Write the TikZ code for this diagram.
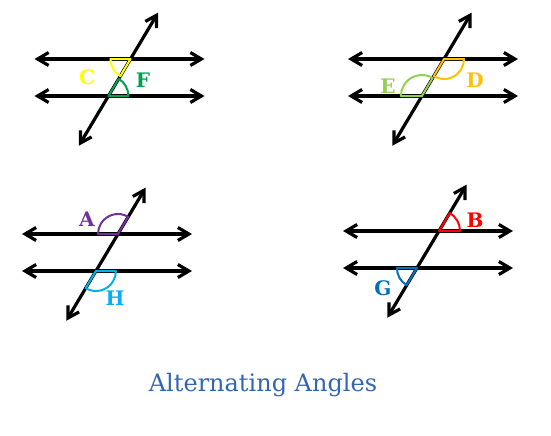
\documentclass[tikz,border=0pt]{standalone}
\usepackage{fontspec}
\setmainfont{DejaVu Serif}
\usetikzlibrary{ arrows.meta, calc }
\definecolor{angC}{HTML}{FFFF00}
\definecolor{angF}{HTML}{00A050}
\definecolor{angD}{HTML}{FFC000}
\definecolor{angE}{HTML}{92D050}
\definecolor{angA}{HTML}{7030A0}
\definecolor{angH}{HTML}{00B0F0}
\definecolor{angB}{HTML}{FF0000}
\definecolor{angG}{HTML}{0070C0}
\definecolor{titleblue}{HTML}{3465B0}
\tikzset{
>={Straight Barb[length=5.5pt,width=6.5pt]}, % open chevron heads
x=0.5pt, y=0.5pt, % one unit is one pixel of the sketch
line/.style={<->, line width=1.6pt}, % parallel lines and transversal
angle/.style={line width=1pt, line join=round}, % coloured angle marks
lbl/.style={font=\fontsize{10}{10}\selectfont\bfseries, inner sep=0pt},
}

\begin{document}
\begin{tikzpicture}
  \useasboundingbox (0,0) rectangle (551,435);
  % four copies of two parallels cut by a transversal
  \foreach \n/\x/\y in {1/130.5/376, 2/444/376, 3/118/201, 4/439/204} {
    \coordinate (t\n) at (\x,\y);
    \coordinate (b\n) at ($(t\n)+(-22.1,-37)$);
    \coordinate (tl\n) at ($(t\n)+(-96,0)$);
    \coordinate (tr\n) at ($(t\n)+(74,0)$);
    \coordinate (bl\n) at ($(t\n)+(-96,-37)$);
    \coordinate (br\n) at ($(t\n)+(74,-37)$);
    \coordinate (up\n) at ($(t\n)+(59.2:54)$);
    \coordinate (dn\n) at ($(t\n)+(239.2:101)$);
    \draw[line] (tl\n) -- (tr\n);
    \draw[line] (bl\n) -- (br\n);
    \draw[line] (dn\n) -- (up\n);
  }

  \draw[angle, angC] (t1) -- ++(180:20) arc (180:239.2:20) -- cycle;
  \draw[angle, angF] (b1) -- ++(0:20) arc (0:59.2:20) -- cycle;
  \draw[angle, angD] (t2) -- ++(-120.8:20) arc (-120.8:0:20) -- cycle;
  \draw[angle, angE] (b2) -- ++(59.2:21) arc (59.2:180:21) -- cycle;
  \draw[angle, angA] (t3) -- ++(59.2:20) arc (59.2:180:20) -- cycle;
  \draw[angle, angH] (b3) -- ++(239.2:20) arc (239.2:360:20) -- cycle;
  \draw[angle, angB] (t4) -- ++(0:21) arc (0:59.2:21) -- cycle;
  \draw[angle, angG] (b4) -- ++(180:20) arc (180:239.2:20) -- cycle;

  \node[lbl, angC] (lC) at (87,358) {C};
  \node[lbl, angF] (lF) at (143,355) {F};
  \node[lbl, angD] (lD) at (475,355) {D};
  \node[lbl, angE] (lE) at (388,349) {E};
  \node[lbl, angA] (lA) at (87,216) {A};
  \node[lbl, angH] (lH) at (115,137) {H};
  \node[lbl, angB] (lB) at (475,215) {B};
  \node[lbl, angG] (lG) at (383,147) {G};

  \node[titleblue, font=\fontsize{12}{12}\selectfont] (title) at (263,50) {Alternating Angles};
\end{tikzpicture}
\end{document}
